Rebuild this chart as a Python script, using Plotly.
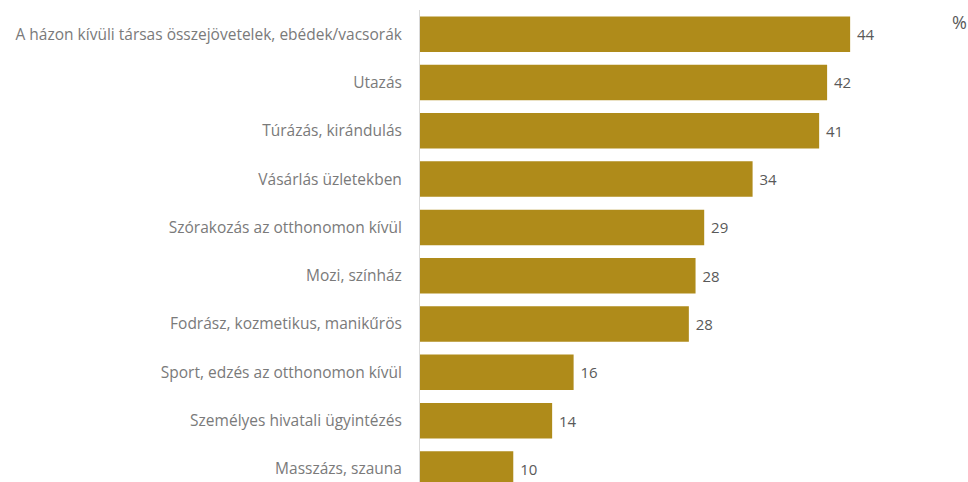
import plotly.graph_objects as go

categories = [
    "A házon kívüli társas összejövetelek, ebédek/vacsorák",
    "Utazás",
    "Túrázás, kirándulás",
    "Vásárlás üzletekben",
    "Szórakozás az otthonomon kívül",
    "Mozi, színház",
    "Fodrász, kozmetikus, manikűrös",
    "Sport, edzés az otthonomon kívül",
    "Személyes hivatali ügyintézés",
    "Masszázs, szauna",
]
values = [44.27, 41.9, 41.08, 34.23, 29.25, 28.36, 27.67, 15.81, 13.6, 9.6]

fig = go.Figure(
    go.Bar(
        y=categories,
        x=values,
        orientation="h",
        marker=dict(color="#AF8B1A", line=dict(width=0)),
        texttemplate="\u00a0%{x:.0f}",
        textposition="outside",
        textfont=dict(family="Open Sans", size=15, color="#595959"),
        cliponaxis=False,
        hoverinfo="skip",
    )
)

fig.update_layout(
    width=968,
    height=482,
    margin=dict(l=420, r=0, t=10, b=0),
    paper_bgcolor="white",
    plot_bgcolor="white",
    bargap=0.265,
    showlegend=False,
    xaxis=dict(range=[0, 56.4], visible=False, fixedrange=True),
    yaxis=dict(
        type="category",
        categoryorder="array",
        categoryarray=categories,
        range=[9.27, -0.5],
        showline=True,
        linecolor="#D9D9D9",
        linewidth=1,
        showgrid=False,
        ticks="",
        ticklabelstandoff=14,
        tickfont=dict(family="Open Sans", size=15.5, color="#7A7A7A"),
    ),
    annotations=[
        dict(
            text="%",
            x=(959 - 420) / 548,
            y=1 + (10 - 22) / 472,
            xref="paper",
            yref="paper",
            xanchor="center",
            yanchor="middle",
            showarrow=False,
            font=dict(family="Open Sans", size=18, color="#595959"),
        )
    ],
)

fig.write_html("out.html")
